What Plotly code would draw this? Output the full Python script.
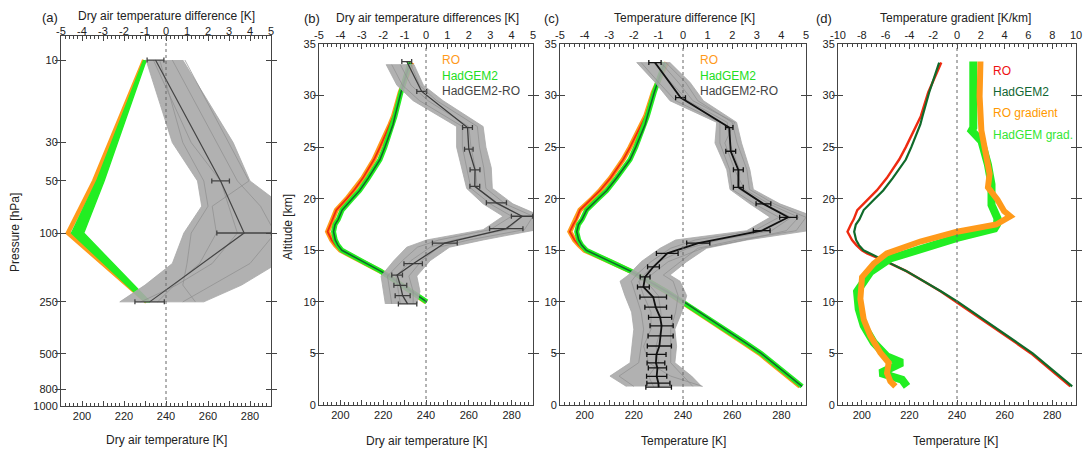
import plotly.graph_objects as go

W, H = 1083, 450
FONT = "Liberation Sans, Arial, sans-serif"

# ---------------- data: panel (a) (pressure levels, hPa) ----------------
p_mean_a = [10, 50, 100, 250]
diff_mean_a = [-0.5, 2.6, 3.72, -0.78]
diff_err_a = [0.4, 0.42, 1.3, 0.7]

p_env_a = [10, 30, 50, 70, 100, 150, 200, 250]
diff_lo_a = [-0.95, 0.3, 1.5, 1.7, 0.85, 0.3, -1.0, -2.2]
diff_hi_a = [0.8, 3.2, 4.0, 5.6, 6.0, 5.3, 3.6, 1.8]
# a few individual ensemble members
mem_a = [
    [-0.6, 1.2, 2.6, 3.0, 3.4, 2.2, 0.5, -1.2],
    [0.3, 2.4, 3.4, 4.5, 5.2, 4.0, 2.2, 0.8],
    [-0.3, 0.8, 1.8, 2.0, 1.2, 1.0, 0.8, 1.4],
    [0.9, 3.0, 3.95, 2.2, 2.4, 1.6, 0.4, -0.4],
]

p_T_a = [10, 50, 100, 250]
T_ro_a = [229.6, 205.8, 193.3, 230.8]
T_had_lo_a = [229.4, 207.0, 195.0, 229.8]
T_had_hi_a = [230.6, 210.5, 200.8, 232.4]

# ---------------- data: temperature profiles (altitude, km) ----------------
alt_T = [1.8, 3, 4, 5, 6, 7, 8, 9, 10, 11, 12, 12.6, 13, 13.9, 14.7, 15, 15.5, 16,
         16.8, 17.5, 18, 18.9, 20, 20.8, 22, 23.8, 25, 26, 27.2, 28, 30.3, 33.2]
T_ro = [287.6, 281.5, 276.4, 271.1, 264.9, 258.6, 252.4, 246.2, 240.0, 233.2, 226.0,
        221.8, 218.5, 210.3, 202.2, 200.0, 197.7, 195.9, 194.0, 195.4, 196.6, 198.1,
        203.0, 206.3, 210.5, 215.7, 218.5, 220.5, 223.2, 224.8, 227.9, 233.4]
T_had = [288.4, 282.2, 277.1, 271.8, 265.6, 259.3, 253.0, 246.7, 240.4, 233.4, 226.0,
         222.0, 218.6, 210.5, 203.0, 200.7, 198.8, 197.6, 196.8, 197.5, 199.0, 200.8,
         205.5, 209.0, 213.0, 218.5, 220.8, 222.5, 224.6, 225.5, 228.3, 232.5]

# ---------------- data: panel (b) dry temperature differences ----------------
alt_env_b = [9.8, 11.0, 12.5, 14.0, 15.3, 16.0, 17.0, 18.3, 19.5, 21.0, 23.0, 25.0,
             27.0, 29.5, 31.0, 33.0]
lo_b = [-1.9, -2.0, -2.1, -1.5, -0.9, 0.03, 2.67, 3.6, 2.67, 1.9, 1.66, 1.43, 1.43,
        -0.6, -1.36, -1.86]
hi_b = [-0.43, -0.28, -0.43, 0.2, 1.1, 2.67, 5.2, 5.4, 4.06, 3.1, 3.05, 2.8, 2.67,
        0.8, -0.12, -0.56]
mem_b = [
    [-1.6, -1.7, -1.8, -1.1, -0.4, 0.6, 3.0, 4.0, 3.0, 2.1, 1.9, 1.7, 1.7, -0.3, -1.1, -1.6],
    [-0.6, -0.6, -0.8, -0.2, 0.6, 2.0, 4.6, 5.0, 3.7, 2.8, 2.7, 2.5, 2.4, 0.5, -0.3, -0.7],
    [-1.2, -1.3, -1.4, -0.7, 0.2, 1.3, 3.8, 4.5, 3.3, 2.4, 2.3, 2.1, 2.0, 0.1, -0.7, -1.2],
]
alt_mean_b = [9.8, 10.6, 11.6, 12.6, 13.7, 15.7, 17.1, 18.3, 19.6, 21.2, 22.8, 24.8,
              26.9, 30.4, 33.3]
mean_b = [-0.86, -1.09, -1.2, -1.35, -0.6, 0.88, 3.75, 4.49, 3.29, 2.28, 2.29, 2.0,
          1.94, -0.2, -0.9]
err_b = [0.43, 0.35, 0.3, 0.25, 0.43, 0.58, 0.78, 0.5, 0.47, 0.23, 0.23, 0.2, 0.23,
         0.23, 0.23]

# ---------------- data: panel (c) temperature differences ----------------
alt_env_c = [1.8, 2.8, 4.1, 5.7, 7.35, 9.0, 10.6, 12.0, 12.6, 13.9, 15.2, 16.0, 16.9,
             18.2, 19.5, 20.9, 22.8, 25.4, 27.4, 29.5, 31.3, 33.2]
lo_c = [-2.3, -2.97, -2.15, -2.09, -2.0, -2.09, -2.36, -2.56, -2.22, -1.7, -0.93,
        -0.3, 2.59, 3.54, 2.72, 1.91, 1.78, 1.3, 1.37, -0.53, -1.14, -1.88]
hi_c = [0.76, 0.35, -0.33, -0.26, -0.33, -0.05, 0.15, -0.12, -0.53, 0.15, 0.96,
        2.6, 5.1, 5.4, 3.94, 2.86, 2.72, 2.38, 2.18, 0.83, 0.28, -0.53]
mem_c = [
    [-2.0, -2.6, -1.8, -1.7, -1.6, -1.7, -1.9, -2.1, -1.9, -1.3, -0.5, 0.5, 2.9, 3.9,
     2.9, 2.0, 1.9, 1.5, 1.5, -0.3, -1.0, -1.7],
    [0.4, 0.0, -0.5, -0.5, -0.5, -0.3, -0.2, -0.4, -0.8, -0.1, 0.6, 2.2, 4.6, 5.0,
     3.7, 2.7, 2.6, 2.2, 2.0, 0.6, 0.1, -0.7],
    [-1.2, -1.4, -1.0, -1.1, -0.9, -0.9, -1.0, -1.5, -1.6, -1.0, 0.2, 1.5, 3.6, 4.4,
     3.3, 2.3, 2.3, 1.9, 1.8, 0.2, -0.5, -1.2],
    [0.8, -0.5, -1.4, -1.6, -1.3, -1.3, -1.6, -1.8, -1.3, -0.6, 0.8, 2.5, 4.2, 4.7,
     3.5, 2.5, 2.1, 1.7, 2.1, 0.4, -0.2, -0.9],
]
alt_mean_c = [1.73, 2.12, 2.78, 3.59, 4.08, 4.9, 5.72, 6.70, 7.68, 8.5, 9.48, 10.46,
              11.44, 12.42, 13.4, 14.7, 15.7, 16.9, 18.2, 19.5, 21.1, 22.8, 24.6,
              26.9, 29.8, 33.2]
mean_c = [-0.99, -1.0, -1.07, -1.04, -1.1, -1.08, -0.96, -0.91, -0.87, -0.93, -1.11,
          -1.21, -1.61, -1.54, -1.2, -0.64, 0.62, 3.2, 4.28, 3.27, 2.25, 2.25, 1.94,
          1.88, -0.1, -1.14]
err_c = [0.52, 0.47, 0.41, 0.37, 0.36, 0.39, 0.49, 0.51, 0.47, 0.47, 0.44, 0.54, 0.24,
         0.2, 0.24, 0.44, 0.47, 0.34, 0.35, 0.3, 0.2, 0.2, 0.2, 0.15, 0.2, 0.25]

# ---------------- data: panel (d) temperature gradients (K/km) ----------------
alt_g_ro = [1.8, 2.3, 3.1, 4.1, 5.07, 6.7, 8.3, 10.3, 12.4, 13.7, 14.7, 15.85, 16.8,
            17.5, 18.3, 18.8, 19.9, 20.6, 21.1, 22.4, 24.0, 26.6, 29.9, 33.3]
g_ro = [-5.18, -5.6, -5.88, -5.74, -6.44, -7.28, -7.84, -8.12, -7.98, -7.0, -5.9,
        -3.08, 0.0, 3.3, 4.48, 3.95, 3.4, 2.9, 2.6, 2.74, 2.47, 2.05, 1.9, 1.97]
alt_g_had = [1.8, 2.45, 3.1, 4.1, 4.7, 6.05, 7.7, 9.3, 11.0, 12.9, 14.2, 15.5, 16.2,
             17.1, 17.5, 18.1, 19.4, 21.4, 23.3, 25.6, 26.6, 26.9, 29.9, 33.3]
g_had = [-4.2, -4.62, -6.44, -4.62, -5.88, -7.0, -7.84, -8.26, -8.4, -7.28, -5.6,
         -2.24, 0.0, 3.15, 3.36, 3.4, 2.9, 2.9, 2.6, 2.05, 1.23, 1.37, 1.37, 1.37]

# ---------------- tick labels ----------------
temp_ticks = [190, 200, 210, 220, 230, 240, 250, 260, 270, 280, 290]
temp_text = ["", "200", "", "220", "", "240", "", "260", "", "280", ""]
diff_ticks = [-5, -4, -3, -2, -1, 0, 1, 2, 3, 4, 5]
grad_ticks = [-10, -8, -6, -4, -2, 0, 2, 4, 6, 8, 10]
p_ticks = [10, 30, 50, 100, 250, 500, 800, 1000]
alt_ticks = [0, 5, 10, 15, 20, 25, 30, 35]

# ---------------- colours ----------------
ORANGE = "#ff9a1a"
RED = "#ee2a10"
GREEN = "#22ee22"
DKGREEN = "#0f6a2a"
GRAY_FILL = "rgba(168,168,168,0.9)"
GRAY_LINE = "#a8a8a8"
GRAY_MEM = "#8e8e8e"

# ---------------- layout geometry (pixels) ----------------
panels = {
    "a": dict(x=(61, 271), y=(36, 406)),
    "b": dict(x=(319, 533), y=(44, 405)),
    "c": dict(x=(560, 806), y=(44, 405)),
    "d": dict(x=(838, 1076), y=(44, 405)),
}


def px(x):
    return x / W


def py(y):
    return 1 - y / H


fig = go.Figure()
AX = "#444444"
tickfont = dict(family=FONT, size=11, color="#222")

layout_axes = {}
for i, key in enumerate(["a", "b", "c", "d"]):
    g = panels[key]
    xb = 2 * i + 1
    xt = 2 * i + 2
    yi = i + 1
    xb_name = "xaxis" if xb == 1 else f"xaxis{xb}"
    yname = "yaxis" if yi == 1 else f"yaxis{yi}"
    yref = "y" if yi == 1 else f"y{yi}"
    xbref = "x" if xb == 1 else f"x{xb}"
    dom_x = [px(g["x"][0]), px(g["x"][1])]
    dom_y = [py(g["y"][1]), py(g["y"][0])]
    layout_axes[xb_name] = dict(
        domain=dom_x, anchor=yref, range=[190, 290], side="bottom",
        tickmode="array", tickvals=temp_ticks, ticktext=temp_text,
        ticks="inside", ticklen=5, tickcolor=AX, showline=True, linecolor=AX,
        linewidth=1, mirror=False, showgrid=False, zeroline=False,
        tickfont=tickfont, automargin=False,
        minor=dict(ticks="inside", ticklen=3, dtick=2, tick0=190, tickcolor=AX),
    )
    if key == "d":
        tv, tt, mdt, rng = grad_ticks, [str(v) for v in grad_ticks], 0.4, [-10, 10]
    else:
        tv, tt, mdt, rng = diff_ticks, [str(v) for v in diff_ticks], 0.2, [-5, 5]
    layout_axes[f"xaxis{xt}"] = dict(
        domain=dom_x, anchor=yref, overlaying=xbref, side="top", range=rng,
        tickmode="array", tickvals=tv, ticktext=tt,
        ticks="inside", ticklen=5, tickcolor=AX, showline=True, linecolor=AX,
        linewidth=1, showgrid=False, zeroline=False, tickfont=tickfont,
        automargin=False, ticklabelstandoff=(-4 if key == "a" else 0),
        minor=dict(ticks="inside", ticklen=3, dtick=mdt, tick0=rng[0], tickcolor=AX),
    )
    if key == "a":
        ycfg = dict(type="log", range=[3, 0.861], tickmode="array",
                    tickvals=p_ticks, ticktext=[str(v) for v in p_ticks])
    else:
        ycfg = dict(range=[0, 35], tickmode="array", tickvals=alt_ticks,
                    ticktext=[str(v) for v in alt_ticks])
    ycfg.update(domain=dom_y, anchor=xbref, ticks="inside", ticklen=5,
                tickcolor=AX, showline=True, linecolor=AX, linewidth=1,
                mirror="allticks", showgrid=False, zeroline=False,
                tickfont=tickfont, automargin=False)
    layout_axes[yname] = ycfg
    # dotted zero line
    fig.add_shape(type="line", xref=xbref, yref=f"{yref} domain", x0=240, x1=240,
                  y0=0, y1=1, line=dict(color="#666", width=1, dash="dot"))


def band(fig, lo, hi, yv, xaxis, yaxis, fill, line_color, lw=0.8):
    fig.add_trace(go.Scatter(
        x=list(lo) + list(hi)[::-1], y=list(yv) + list(yv)[::-1],
        xaxis=xaxis, yaxis=yaxis, mode="lines", fill="toself",
        fillcolor=fill, line=dict(color=line_color, width=lw),
        hoverinfo="skip"))


def line(fig, xv, yv, xaxis, yaxis, color, width, dash="solid"):
    fig.add_trace(go.Scatter(x=xv, y=yv, xaxis=xaxis, yaxis=yaxis, mode="lines",
                             line=dict(color=color, width=width, dash=dash),
                             hoverinfo="skip"))


def mean_with_err(fig, xv, yv, err, xaxis, yaxis, color, width):
    fig.add_trace(go.Scatter(
        x=xv, y=yv, xaxis=xaxis, yaxis=yaxis, mode="lines",
        line=dict(color=color, width=width),
        error_x=dict(type="data", array=err, visible=True, color=color,
                     thickness=1.3, width=2.5),
        hoverinfo="skip"))


# ---------------- panel (a) ----------------
band(fig, diff_lo_a, diff_hi_a, p_env_a, "x2", "y", GRAY_FILL, GRAY_LINE)
for m in mem_a:
    line(fig, m, p_env_a, "x2", "y", GRAY_MEM, 0.7)
line(fig, T_ro_a, p_T_a, "x", "y", ORANGE, 4.5)
band(fig, T_had_lo_a, T_had_hi_a, p_T_a, "x", "y", GREEN, GREEN, 1.5)
mean_with_err(fig, diff_mean_a, p_mean_a, diff_err_a, "x2", "y", "#444", 1.2)

# ---------------- panel (b) ----------------
alt_b = [a for a in alt_T if a >= 10]
T_ro_b = [t for a, t in zip(alt_T, T_ro) if a >= 10]
T_had_b = [t for a, t in zip(alt_T, T_had) if a >= 10]
band(fig, lo_b, hi_b, alt_env_b, "x4", "y2", GRAY_FILL, GRAY_LINE)
for m in mem_b:
    line(fig, m, alt_env_b, "x4", "y2", GRAY_MEM, 0.7)
line(fig, T_ro_b, alt_b, "x3", "y2", ORANGE, 5)
line(fig, T_ro_b, alt_b, "x3", "y2", RED, 1.8)
line(fig, T_had_b, alt_b, "x3", "y2", GREEN, 5)
line(fig, T_had_b, alt_b, "x3", "y2", DKGREEN, 1.6)
mean_with_err(fig, mean_b, alt_mean_b, err_b, "x4", "y2", "#3c3c3c", 1.3)

# ---------------- panel (c) ----------------
band(fig, lo_c, hi_c, alt_env_c, "x6", "y3", GRAY_FILL, GRAY_LINE)
for m in mem_c:
    line(fig, m, alt_env_c, "x6", "y3", GRAY_MEM, 0.7)
line(fig, T_ro, alt_T, "x5", "y3", ORANGE, 5)
line(fig, T_ro, alt_T, "x5", "y3", RED, 1.8)
line(fig, T_had, alt_T, "x5", "y3", GREEN, 5)
line(fig, T_had, alt_T, "x5", "y3", DKGREEN, 1.6)
mean_with_err(fig, mean_c, alt_mean_c, err_c, "x6", "y3", "#111", 1.8)

# ---------------- panel (d) ----------------
line(fig, g_had, alt_g_had, "x8", "y4", GREEN, 8)
line(fig, g_ro, alt_g_ro, "x8", "y4", ORANGE, 6)
line(fig, T_ro, alt_T, "x7", "y4", RED, 2.4)
line(fig, T_had, alt_T, "x7", "y4", DKGREEN, 2.2)

# ---------------- text ----------------
annotations = []


def ann(text, x, y, size=12, color="#222", xanchor="center", angle=0):
    annotations.append(dict(
        text=text, x=px(x), y=py(y), xref="paper", yref="paper",
        xanchor=xanchor, yanchor="middle", showarrow=False, textangle=angle,
        font=dict(family=FONT, size=size, color=color)))


ann("(a)", 50, 17, 13)
ann("Dry air temperature difference [K]", 166, 16, 12)
ann("(b)", 312, 18, 13)
ann("Dry air temperature differences [K]", 427, 18, 12)
ann("(c)", 551, 18, 13)
ann("Temperature difference [K]", 684, 18, 12)
ann("(d)", 824, 18, 13)
ann("Temperature gradient [K/km]", 955, 18, 12)

ann("Dry air temperature [K]", 166, 440, 12)
ann("Dry air temperature [K]", 426, 441, 12)
ann("Temperature [K]", 683, 441, 12)
ann("Temperature [K]", 955, 441, 12)

ann("Pressure [hPa]", 15, 233, 12, angle=-90)
ann("Altitude [km]", 288, 227, 12, angle=-90)

ann("RO", 440, 60, 12, ORANGE, "left")
ann("HadGEM2", 440, 76, 12, "#22dd22", "left")
ann("HadGEM2-RO", 440, 91, 12, "#444", "left")
ann("RO", 698, 60, 12, ORANGE, "left")
ann("HadGEM2", 698, 76, 12, "#22dd22", "left")
ann("HadGEM2-RO", 698, 91, 12, "#444", "left")
ann("RO", 991, 71, 12, "#ee1111", "left")
ann("HadGEM2", 991, 92, 12, "#116633", "left")
ann("RO gradient", 991, 113, 12, "#ff9900", "left")
ann("HadGEM grad.", 991, 135, 12, "#33e633", "left")

fig.update_layout(
    width=W, height=H, autosize=False,
    margin=dict(l=0, r=0, t=0, b=0, autoexpand=False),
    paper_bgcolor="white", plot_bgcolor="white",
    showlegend=False, hovermode=False,
    font=dict(family=FONT, size=11, color="#222"),
    annotations=annotations,
    **layout_axes,
)

fig.write_html(
    "out.html",
    config={"displayModeBar": False, "staticPlot": True},
    post_script="document.body.style.margin='0px';"
                "document.body.style.overflow='hidden';",
)
